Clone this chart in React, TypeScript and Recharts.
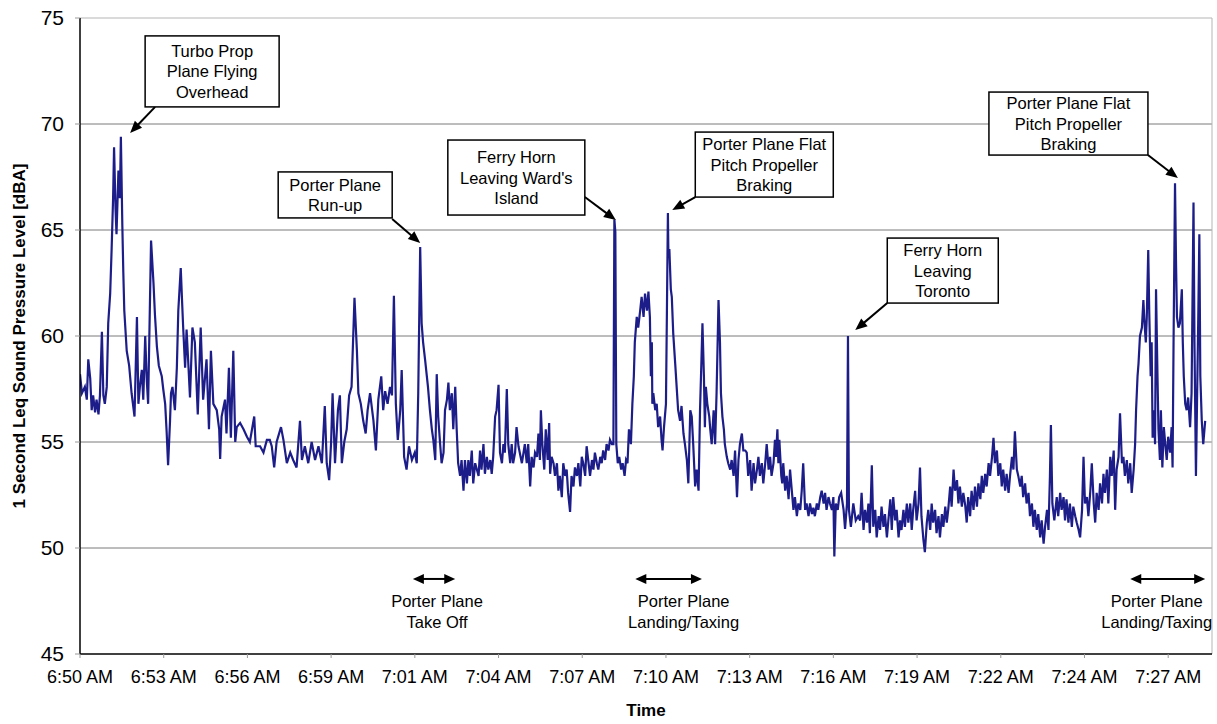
import { LineChart, Line, XAxis, YAxis, ReferenceLine, ReferenceDot, Label } from 'recharts';

// seconds after 6:50 AM where the category labels sit
const tickSeconds = [0, 172, 344, 516, 688, 860, 1032, 1204, 1376, 1548, 1720, 1892, 2064, 2236];
const tickLabels = [
  '6:50 AM', '6:53 AM', '6:56 AM', '6:59 AM', '7:01 AM', '7:04 AM', '7:07 AM',
  '7:10 AM', '7:13 AM', '7:16 AM', '7:19 AM', '7:22 AM', '7:24 AM', '7:27 AM',
];
const levelTicks = [45, 50, 55, 60, 65, 70, 75];
const gridLevels = [50, 55, 60, 65, 70];

// [seconds after 6:50 AM, 1 s Leq dBA]
const leqSamples: [number, number][] = [
  [0, 58.2], [4, 57.3], [10, 57.6], [14, 57.0], [17, 58.9], [21, 58.0], [24, 56.5], [27, 57.2], [31, 56.4], [34, 57.0],
  [38, 56.3], [41, 57.2], [45, 60.2], [48, 57.2], [51, 56.8], [55, 57.6], [58, 60.6], [62, 62.0], [65, 64.1], [68, 66.5],
  [70, 68.9], [73, 66.0], [75, 64.8], [79, 67.8], [82, 66.5], [84, 69.4], [87, 65.2], [89, 63.0], [91, 61.2], [96, 59.3],
  [101, 58.6], [106, 57.3], [112, 56.2], [117, 60.9], [120, 56.8], [123, 57.6], [127, 58.4], [130, 57.0], [134, 60.0], [137, 58.0],
  [140, 56.8], [146, 64.5], [151, 62.5], [154, 61.0], [158, 59.5], [162, 58.6], [168, 58.1], [171, 57.5], [175, 56.8], [178, 55.5],
  [181, 53.9], [185, 56.0], [187, 57.3], [190, 57.6], [195, 56.5], [199, 58.5], [202, 61.2], [207, 63.2], [210, 61.5], [212, 60.4],
  [216, 58.5], [219, 60.3], [223, 58.5], [226, 57.1], [231, 60.4], [236, 59.7], [242, 56.3], [248, 60.4], [253, 57.0], [260, 58.9],
  [265, 55.6], [269, 59.3], [274, 56.8], [281, 56.5], [286, 55.6], [288, 54.2], [291, 56.2], [298, 57.0], [301, 55.4], [306, 58.5],
  [310, 55.2], [315, 59.3], [319, 55.0], [322, 55.7], [329, 55.9], [336, 55.6], [343, 55.25], [349, 55.0], [358, 56.2], [361, 54.8],
  [370, 54.8], [377, 54.5], [384, 55.1], [390, 55.1], [394, 54.8], [399, 53.8], [404, 55.0], [413, 55.7], [418, 55.1], [425, 54.0],
  [432, 54.5], [438, 54.15], [445, 53.8], [452, 56.0], [456, 54.15], [462, 54.8], [469, 54.0], [476, 55.0], [483, 54.15], [490, 54.8],
  [497, 54.0], [503, 56.7], [507, 54.0], [512, 53.2], [516, 55.0], [519, 57.3], [524, 54.0], [530, 56.5], [534, 57.2], [538, 54.0],
  [543, 55.0], [548, 55.6], [553, 57.2], [558, 57.6], [564, 61.8], [569, 59.3], [572, 57.3], [577, 56.8], [582, 56.0], [587, 55.4],
  [591, 56.5], [596, 57.3], [603, 56.0], [608, 54.6], [613, 57.0], [619, 58.1], [623, 56.5], [627, 57.4], [632, 56.8], [637, 57.6],
  [641, 57.2], [645, 61.9], [649, 56.8], [653, 55.1], [658, 56.5], [661, 58.4], [666, 54.3], [671, 53.7], [676, 54.8], [682, 54.15],
  [688, 54.5], [692, 54.0], [695, 57.3], [699, 64.2], [702, 60.6], [705, 59.7], [709, 58.9], [715, 57.6], [719, 56.5], [723, 55.6],
  [726, 55.1], [730, 54.15], [733, 58.2], [736, 56.2], [740, 54.9], [743, 54.0], [747, 54.5], [750, 56.5], [754, 57.0], [757, 57.8],
  [760, 56.5], [764, 57.3], [767, 55.6], [771, 57.6], [774, 55.6], [777, 54.0], [781, 53.4], [784, 54.15], [788, 52.7], [791, 54.15],
  [795, 53.05], [798, 54.15], [801, 53.4], [805, 54.6], [808, 53.05], [812, 54.0], [819, 53.4], [822, 54.6], [825, 53.7], [829, 54.9],
  [832, 53.5], [836, 54.3], [839, 53.7], [843, 54.15], [846, 53.5], [849, 54.3], [853, 56.2], [856, 56.5], [860, 57.7], [863, 54.5],
  [867, 54.0], [870, 54.9], [873, 54.5], [877, 57.5], [880, 54.9], [884, 54.0], [887, 54.9], [890, 54.0], [894, 54.5], [897, 55.7],
  [901, 54.8], [908, 54.0], [914, 54.9], [918, 54.0], [921, 54.9], [925, 52.9], [928, 54.3], [932, 53.8], [935, 54.5], [939, 54.3],
  [942, 55.4], [945, 54.15], [947, 56.5], [950, 54.9], [954, 53.7], [957, 55.6], [961, 54.15], [964, 55.9], [966, 53.5], [969, 54.3],
  [973, 54.0], [976, 53.4], [980, 54.0], [983, 52.7], [986, 53.4], [990, 52.4], [993, 54.0], [997, 53.4], [1000, 53.7], [1003, 52.6],
  [1007, 51.7], [1010, 53.4], [1014, 52.9], [1017, 53.8], [1021, 53.4], [1024, 54.0], [1028, 52.9], [1031, 54.3], [1034, 54.0], [1038, 53.4],
  [1041, 54.8], [1045, 54.0], [1048, 53.4], [1052, 54.15], [1055, 53.7], [1058, 54.5], [1062, 54.0], [1065, 53.7], [1069, 54.3], [1072, 54.0],
  [1075, 54.6], [1079, 54.15], [1082, 54.9], [1086, 54.6], [1089, 55.1], [1093, 54.9], [1096, 54.9], [1098, 65.5], [1100, 64.9], [1102, 54.9],
  [1105, 54.0], [1108, 54.3], [1112, 53.7], [1115, 54.0], [1119, 53.4], [1122, 54.15], [1125, 54.0], [1128, 55.6], [1132, 54.9], [1135, 56.8],
  [1138, 58.1], [1140, 59.7], [1144, 60.9], [1147, 60.4], [1151, 61.2], [1154, 61.85], [1158, 60.9], [1161, 62.0], [1165, 61.2], [1168, 62.1],
  [1171, 60.9], [1173, 58.1], [1175, 59.7], [1176, 56.8], [1178, 57.3], [1182, 56.5], [1185, 56.8], [1188, 55.7], [1192, 56.2], [1195, 55.1],
  [1197, 54.6], [1200, 55.7], [1204, 56.8], [1206, 61.2], [1208, 65.8], [1209, 63.9], [1211, 64.1], [1214, 62.2], [1216, 61.85], [1219, 60.1],
  [1223, 58.7], [1226, 57.6], [1229, 56.5], [1233, 56.0], [1236, 56.7], [1240, 55.4], [1243, 54.9], [1247, 54.15], [1250, 53.05], [1254, 56.5],
  [1257, 56.2], [1260, 54.9], [1264, 52.9], [1267, 53.7], [1271, 52.7], [1274, 56.5], [1277, 58.9], [1279, 60.6], [1282, 58.1], [1284, 55.7],
  [1286, 57.6], [1289, 56.8], [1293, 56.2], [1295, 55.6], [1298, 54.9], [1302, 56.5], [1305, 54.9], [1308, 57.3], [1312, 61.7], [1315, 59.7],
  [1317, 57.3], [1320, 56.2], [1323, 55.6], [1325, 54.9], [1329, 54.3], [1332, 54.0], [1336, 53.7], [1339, 54.15], [1343, 53.4], [1346, 54.6],
  [1350, 52.4], [1353, 54.15], [1356, 54.9], [1360, 55.4], [1363, 54.6], [1367, 54.6], [1370, 54.5], [1373, 53.4], [1377, 54.15], [1380, 52.7],
  [1384, 54.0], [1387, 53.05], [1391, 53.7], [1394, 54.3], [1397, 53.4], [1401, 54.0], [1404, 53.05], [1408, 54.0], [1411, 54.9], [1415, 53.7],
  [1418, 54.3], [1421, 53.4], [1425, 54.0], [1428, 55.1], [1430, 54.3], [1433, 55.6], [1435, 54.0], [1437, 55.1], [1441, 53.4], [1443, 53.05],
  [1445, 54.0], [1449, 52.7], [1452, 53.4], [1456, 52.3], [1459, 53.7], [1463, 52.6], [1466, 51.8], [1469, 52.4], [1473, 51.5], [1476, 52.1],
  [1480, 51.8], [1483, 52.7], [1486, 54.0], [1490, 51.8], [1493, 52.1], [1497, 51.5], [1500, 52.1], [1504, 51.6], [1507, 51.9], [1510, 51.5],
  [1514, 52.1], [1517, 51.8], [1521, 52.4], [1524, 52.7], [1528, 52.1], [1531, 52.6], [1534, 51.8], [1538, 52.4], [1541, 52.1], [1545, 51.8],
  [1548, 52.4], [1550, 49.6], [1553, 52.1], [1557, 51.8], [1560, 52.4], [1564, 52.6], [1569, 51.8], [1572, 50.9], [1576, 52.1], [1578, 60.0],
  [1580, 51.8], [1584, 51.0], [1589, 52.1], [1594, 51.3], [1599, 51.5], [1603, 51.3], [1606, 52.6], [1610, 50.85], [1613, 51.8], [1617, 51.2],
  [1620, 52.1], [1623, 50.7], [1627, 53.9], [1630, 51.0], [1634, 51.8], [1637, 50.5], [1641, 51.5], [1644, 50.85], [1647, 51.95], [1651, 51.0],
  [1654, 51.6], [1658, 50.5], [1661, 51.3], [1665, 52.3], [1668, 50.85], [1671, 52.4], [1675, 51.3], [1678, 51.8], [1682, 50.5], [1685, 51.3],
  [1688, 50.85], [1692, 51.8], [1695, 51.0], [1699, 52.1], [1702, 51.2], [1706, 52.1], [1709, 50.85], [1712, 51.8], [1716, 52.7], [1719, 51.3],
  [1723, 52.1], [1726, 53.8], [1729, 51.5], [1733, 50.4], [1736, 49.8], [1740, 51.2], [1743, 51.8], [1747, 50.85], [1750, 52.1], [1753, 51.2],
  [1757, 51.8], [1760, 50.7], [1764, 51.5], [1767, 50.5], [1771, 51.6], [1774, 51.0], [1778, 51.95], [1781, 51.2], [1784, 51.8], [1788, 52.9],
  [1791, 51.95], [1795, 53.7], [1798, 52.7], [1802, 53.2], [1805, 52.1], [1808, 52.9], [1812, 51.95], [1815, 52.6], [1819, 52.0], [1822, 51.2],
  [1825, 52.4], [1829, 51.5], [1832, 52.7], [1836, 51.8], [1839, 52.9], [1843, 51.95], [1846, 53.05], [1850, 52.3], [1853, 53.4], [1856, 52.6],
  [1860, 53.5], [1863, 52.9], [1867, 54.0], [1870, 53.4], [1874, 54.3], [1877, 55.2], [1880, 54.0], [1884, 54.6], [1887, 53.4], [1891, 54.0],
  [1894, 52.9], [1897, 53.7], [1901, 52.7], [1904, 53.5], [1908, 52.6], [1911, 53.4], [1915, 54.3], [1918, 53.7], [1921, 55.5], [1925, 53.7],
  [1928, 53.4], [1932, 52.9], [1935, 53.4], [1938, 52.4], [1942, 53.05], [1945, 52.1], [1949, 52.6], [1952, 51.5], [1956, 52.1], [1959, 51.0],
  [1962, 51.8], [1966, 50.85], [1969, 51.6], [1973, 50.5], [1976, 51.3], [1980, 50.2], [1983, 51.0], [1987, 51.8], [1990, 50.85], [1993, 53.4],
  [1995, 55.8], [1998, 52.1], [2002, 51.3], [2007, 52.4], [2010, 51.5], [2014, 52.6], [2017, 51.8], [2021, 52.4], [2024, 51.3], [2027, 52.3],
  [2031, 51.2], [2034, 52.1], [2038, 51.0], [2041, 51.95], [2045, 51.5], [2048, 51.2], [2052, 50.85], [2055, 50.5], [2059, 51.8], [2062, 54.3],
  [2065, 52.1], [2069, 52.4], [2072, 51.5], [2076, 52.7], [2079, 54.0], [2083, 52.1], [2086, 51.2], [2089, 52.6], [2093, 51.8], [2096, 53.05],
  [2100, 52.1], [2103, 53.5], [2106, 52.6], [2110, 53.7], [2113, 52.1], [2117, 54.3], [2120, 53.4], [2124, 54.6], [2127, 51.8], [2130, 53.7],
  [2134, 54.3], [2137, 56.35], [2141, 54.0], [2144, 54.3], [2147, 53.4], [2151, 54.15], [2154, 53.05], [2158, 54.0], [2161, 52.6], [2165, 53.7],
  [2168, 54.9], [2170, 56.5], [2173, 58.1], [2175, 58.7], [2178, 60.0], [2182, 60.4], [2185, 61.7], [2187, 60.75], [2190, 59.7], [2192, 60.9],
  [2195, 64.06], [2197, 61.2], [2200, 58.1], [2202, 59.7], [2204, 55.2], [2207, 56.5], [2209, 54.9], [2211, 62.2], [2214, 58.1], [2216, 55.6],
  [2219, 54.15], [2221, 56.5], [2224, 53.8], [2227, 55.7], [2230, 54.9], [2233, 54.15], [2236, 55.25], [2240, 54.5], [2243, 55.7], [2245, 53.8],
  [2247, 59.7], [2250, 67.2], [2252, 63.6], [2254, 60.9], [2257, 60.4], [2260, 60.6], [2264, 62.2], [2266, 59.7], [2268, 58.1], [2271, 56.8],
  [2274, 56.5], [2277, 57.1], [2281, 55.7], [2284, 57.3], [2288, 66.3], [2290, 59.7], [2293, 53.4], [2295, 56.5], [2298, 61.2], [2300, 64.8],
  [2302, 58.1], [2305, 56.0], [2308, 54.9], [2312, 56.0],
];

const chartData = leqSamples.map(([t, db]) => ({ t, db }));

// callouts: arrow tip in data units, box/tail offsets in pixels from the tip
const callouts = [
  { at: [103, 69.58], lines: ['Turbo Prop', 'Plane Flying', 'Overhead'], box: [15, -97, 134, 71], tail: [25, -26] },
  { at: [699, 64.39], lines: ['Porter Plane', 'Run-up'], box: [-142, -71, 114, 46], tail: [-28, -24] },
  { at: [1101, 65.47], lines: ['Ferry Horn', "Leaving Ward's", 'Island'], box: [-168, -80, 137, 75], tail: [-31, -23] },
  { at: [1217, 65.94], lines: ['Porter Plane Flat', 'Pitch Propeller', 'Braking'], box: [23, -78, 138, 65], tail: [23, -13] },
  { at: [1593, 60.28], lines: ['Ferry Horn', 'Leaving', 'Toronto'], box: [32, -92, 111, 65], tail: [32, -27] },
  { at: [2256, 67.45], lines: ['Porter Plane Flat', 'Pitch Propeller', 'Braking'], box: [-189, -86, 159, 63], tail: [-30, -23] },
];

// double-headed arrows below the trace
const spans = [
  { from: 684, to: 771, lines: ['Porter Plane', 'Take Off'], shift: 3 },
  { from: 1141, to: 1278, lines: ['Porter Plane', 'Landing/Taxing'], shift: 15 },
  { from: 2158, to: 2312, lines: ['Porter Plane', 'Landing/Taxing'], shift: -11 },
];
const spanLevel = 48.54;

const FONT = '"Liberation Sans", Arial, sans-serif';

function arrowHead(x: number, y: number, fromX: number, fromY: number, len = 12, half = 5) {
  const a = Math.atan2(y - fromY, x - fromX);
  const c = Math.cos(a);
  const s = Math.sin(a);
  const bx = x - len * c;
  const by = y - len * s;
  return `${x},${y} ${bx - half * s},${by + half * c} ${bx + half * s},${by - half * c}`;
}

function renderCallout(c: (typeof callouts)[number]) {
  return (props: any) => {
    const { cx, cy } = props;
    if (cx == null || cy == null) return <g />;
    const [dx, dy, w, h] = c.box;
    const bx = cx + dx;
    const by = cy + dy;
    const tx = cx + c.tail[0];
    const ty = cy + c.tail[1];
    const a = Math.atan2(cy - ty, cx - tx);
    const lh = 20.5;
    const top = by + h / 2 - ((c.lines.length - 1) * lh) / 2;
    return (
      <g>
        <line x1={tx} y1={ty} x2={cx - 10 * Math.cos(a)} y2={cy - 10 * Math.sin(a)} stroke="#000" strokeWidth={2} />
        <polygon points={arrowHead(cx, cy, tx, ty)} fill="#000" />
        <rect x={bx} y={by} width={w} height={h} fill="#fff" stroke="#000" strokeWidth={1.5} />
        {c.lines.map((s, i) => (
          <text key={i} x={bx + w / 2} y={top + i * lh} textAnchor="middle" dominantBaseline="central"
            fontSize={16.5} fontFamily={FONT} fill="#000">
            {s}
          </text>
        ))}
      </g>
    );
  };
}

function renderSpan(sp: (typeof spans)[number]) {
  return (props: any) => {
    const { x1, y1, x2 } = props;
    if (x1 == null) return <g />;
    const mid = (x1 + x2) / 2 + sp.shift;
    return (
      <g>
        <line x1={x1 + 8} y1={y1} x2={x2 - 8} y2={y1} stroke="#000" strokeWidth={2} />
        <polygon points={arrowHead(x1, y1, x2, y1, 11, 5)} fill="#000" />
        <polygon points={arrowHead(x2, y1, x1, y1, 11, 5)} fill="#000" />
        {sp.lines.map((s, i) => (
          <text key={i} x={mid} y={y1 + 22 + i * 21} textAnchor="middle" dominantBaseline="central"
            fontSize={16.5} fontFamily={FONT} fill="#000">
            {s}
          </text>
        ))}
      </g>
    );
  };
}

export default function App() {
  return (
    <div style={{ position: 'absolute', left: 0, top: 0, width: 1217, height: 724, background: '#fff', fontFamily: FONT }}>
      <LineChart width={1217} height={724} data={chartData} margin={{ top: 18, right: 5, bottom: 0, left: 0 }}>
        {gridLevels.map((v) => (
          <ReferenceLine key={v} y={v} stroke="#7a7a7a" strokeWidth={1} />
        ))}
        <ReferenceLine y={75} stroke="#b5b5b5" strokeWidth={1} />
        <ReferenceLine x={2326} stroke="#b5b5b5" strokeWidth={1} />
        <XAxis
          type="number"
          dataKey="t"
          domain={[0, 2326]}
          ticks={tickSeconds}
          tickFormatter={(v) => tickLabels[tickSeconds.indexOf(v)] ?? ''}
          interval={0}
          allowDataOverflow
          height={70}
          axisLine={{ stroke: '#000', strokeWidth: 1.5 }}
          tickLine={{ stroke: '#999' }}
          tickSize={4}
          tickMargin={12}
          tick={{ fontSize: 18, fill: '#000', fontFamily: FONT }}
        >
          <Label value="Time" position="insideBottom" offset={8}
            style={{ fontSize: 17, fontWeight: 'bold', fill: '#000', fontFamily: FONT }} />
        </XAxis>
        <YAxis
          type="number"
          domain={[45, 75]}
          ticks={levelTicks}
          interval={0}
          allowDataOverflow
          width={80}
          axisLine={{ stroke: '#000', strokeWidth: 1.5 }}
          tickLine={{ stroke: '#999' }}
          tickSize={5}
          tickMargin={11}
          tick={{ fontSize: 21, fill: '#000', fontFamily: FONT }}
        >
          <Label
            content={(p: any) => {
              const vb = p.viewBox || { x: 0, y: 18, width: 80, height: 636 };
              const x = vb.x + 19;
              const y = vb.y + vb.height / 2;
              return (
                <text x={x} y={y} transform={`rotate(-90, ${x}, ${y})`} textAnchor="middle" dominantBaseline="central"
                  fontSize={17} fontWeight="bold" fontFamily={FONT} fill="#000">
                  1 Second Leq Sound Pressure Level [dBA]
                </text>
              );
            }}
          />
        </YAxis>
        <Line type="linear" dataKey="db" stroke="#1d1d8a" strokeWidth={2.2} dot={false} isAnimationActive={false} />
        {callouts.map((c, i) => (
          <ReferenceDot key={`c${i}`} x={c.at[0]} y={c.at[1]} r={0} shape={renderCallout(c)} />
        ))}
        {spans.map((sp, i) => (
          <ReferenceLine key={`s${i}`} segment={[{ x: sp.from, y: spanLevel }, { x: sp.to, y: spanLevel }]}
            shape={renderSpan(sp)} />
        ))}
      </LineChart>
    </div>
  );
}
